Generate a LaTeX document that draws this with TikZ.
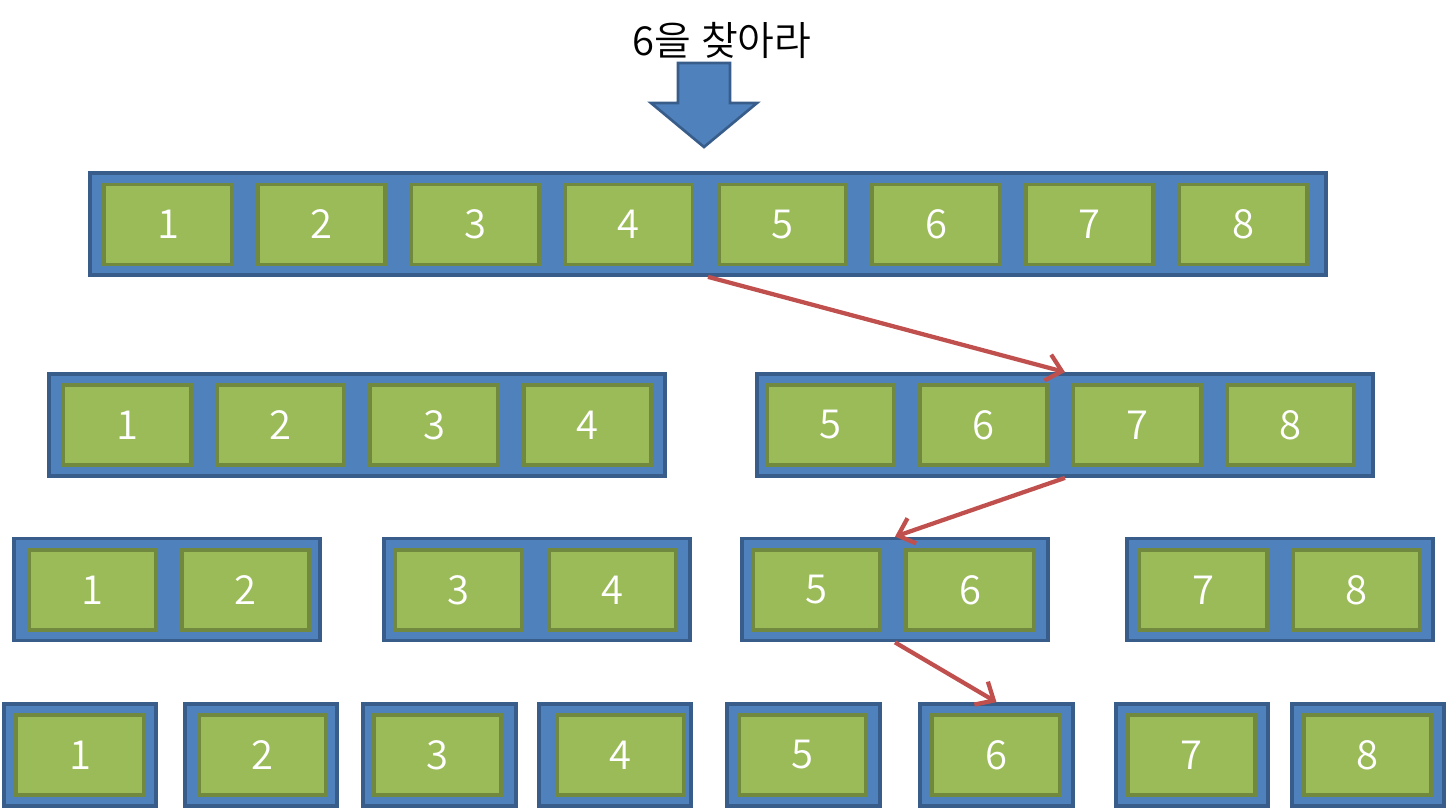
\documentclass[tikz,border=0pt]{standalone}
\usepackage{fontspec}
\setmainfont{Noto Sans CJK KR}[UprightFont=* DemiLight]
\usetikzlibrary{arrows.meta}
\definecolor{boxblue}{HTML}{4F81BD}
\definecolor{boxline}{HTML}{385D8A}
\definecolor{cellgreen}{HTML}{9BBB59}
\definecolor{cellline}{HTML}{71893F}
\definecolor{pathred}{HTML}{C0504D}

\begin{document}
\begin{tikzpicture}[x=0.75pt,y=-0.75pt,
      group/.style={draw=boxline,fill=boxblue,line width=2.8pt,inner sep=0pt,minimum height=76.5pt},
      cell/.style={draw=cellline,fill=cellgreen,line width=2.8pt,inner sep=0pt,minimum width=95.5pt,minimum height=60pt,text=white,font=\fontsize{30}{36}\selectfont},
      hop/.style={draw=pathred,line width=3.2pt,-{Straight Barb[length=11pt,width=20pt]}}]

    \useasboundingbox (0,0) rectangle (1448,811);

    \node[font=\fontsize{30}{36}\selectfont,anchor=base] (goal) at (722,55) {6을\hspace{0.25em}찾아라};
    \filldraw[draw=boxline,fill=boxblue,line width=2pt]
      (678,63) -- (730,63) -- (730,103) -- (757,103) -- (704,147) -- (651,103) -- (678,103) -- cycle;

    \node[group,minimum width=927pt] (top) at (708,224) {};
    \foreach \n/\x in {1/168,2/321.6,3/475.2,4/628.8,5/782.4,6/936,7/1089.6,8/1243.2}
      \node[cell] (t\n) at (\x,224.5) {\n};

    \node[group,minimum width=462pt] (h1) at (357,425) {};
    \node[group,minimum width=462pt] (h2) at (1065,425) {};
    \foreach \n/\x in {1/127,2/280.5,3/434,4/587.5,5/830.5,6/983.5,7/1137,8/1290.5}
      \node[cell] (h\n c) at (\x,425) {\n};

    \node[group,minimum width=229.5pt] (q1) at (167,589.5) {};
    \node[group,minimum width=229.5pt] (q2) at (537,589.5) {};
    \node[group,minimum width=229.5pt] (q3) at (895,589.5) {};
    \node[group,minimum width=229.5pt] (q4) at (1280,589.5) {};
    \foreach \n/\x in {1/92.5,2/245.5,3/458.5,4/612.5,5/816.5,6/970,7/1203,8/1356.5}
      \node[cell] (q\n c) at (\x,590) {\n};

    \foreach \n/\x in {1/80,2/261,3/439.5,4/615,5/803.5,6/996.5,7/1192,8/1368}
      \node[group,minimum width=114.5pt] (s\n) at (\x,755) {};
    \foreach \n/\x in {1/80,2/262.5,3/437.5,4/620.5,5/802.5,6/996,7/1191.5,8/1367.5}
      \node[cell] (s\n c) at (\x,755) {\n};

    \draw[hop] (top.south) -- (h2.north);
    \draw[hop] (h2.south) -- (q3.north);
    \draw[hop] (q3.south) -- (s6.north);
  \end{tikzpicture}
\end{document}
